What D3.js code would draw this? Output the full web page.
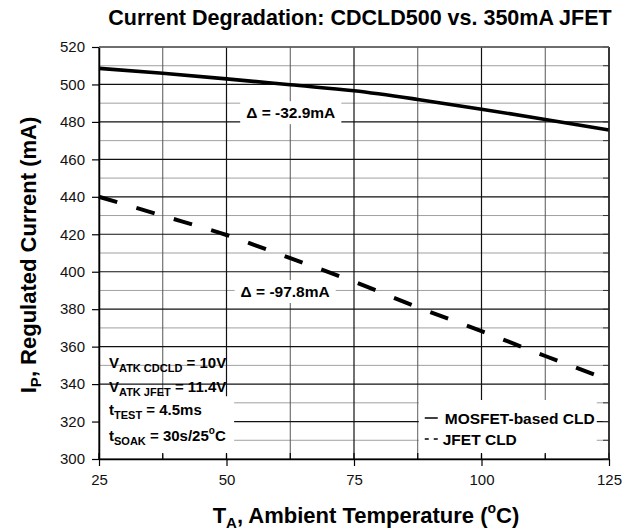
<!DOCTYPE html>
<html>
<head>
<meta charset="utf-8">
<script src="https://cdn.jsdelivr.net/npm/d3@7"></script>
<style>
  body { margin: 0; background: #fff; }
  text { font-family: Arial, "Liberation Sans", sans-serif; }
</style>
</head>
<body>
<div id="chart"></div>
<script>
// Data
const temps = [25, 37.5, 50, 62.5, 75, 87.5, 100, 112.5, 125];
const mosfet = [508.6, 506.0, 503.0, 499.8, 496.6, 492.0, 486.8, 481.3, 475.7];
const jfet = [440.0, 429.9, 419.6, 407.2, 394.7, 381.0, 368.3, 355.0, 342.2];
const xTicks = [25, 50, 75, 100, 125];
const yTicks = [300, 320, 340, 360, 380, 400, 420, 440, 460, 480, 500, 520];
const xMinor = [37.5, 62.5, 87.5, 112.5];
const yMinor = [310, 330, 350, 370, 390, 410, 430, 450, 470, 490, 510];

let svg = d3.select("#chart").append("svg")
  .attr("width", 633)
  .attr("height", 531);
let margins = { top: 47, right: 24, bottom: 72, left: 99 };
let cw = 633 - margins.left - margins.right;
let ch = 531 - margins.top - margins.bottom;

let x = d3.scaleLinear().domain([25, 125]).range([0, cw]);
let y = d3.scaleLinear().domain([300, 520]).range([ch, 0]);

let g = svg.append("g")
  .attr("transform", "translate(" + margins.left + "," + margins.top + ")");

// Gridlines: minor first, then major
g.append("g").selectAll("line").data(yMinor).join("line")
  .attr("x1", 0).attr("x2", cw)
  .attr("y1", d => y(d)).attr("y2", d => y(d))
  .attr("stroke", "#a0a0a0").attr("stroke-width", 1);
g.append("g").selectAll("line").data(xMinor).join("line")
  .attr("x1", d => x(d)).attr("x2", d => x(d))
  .attr("y1", 0).attr("y2", ch)
  .attr("stroke", "#555").attr("stroke-width", 1);
g.append("g").selectAll("line").data(yTicks).join("line")
  .attr("x1", 0).attr("x2", cw)
  .attr("y1", d => y(d)).attr("y2", d => y(d))
  .attr("stroke", "#111").attr("stroke-width", 1.2);
g.append("g").selectAll("line").data(xTicks).join("line")
  .attr("x1", d => x(d)).attr("x2", d => x(d))
  .attr("y1", 0).attr("y2", ch)
  .attr("stroke", "#111").attr("stroke-width", 1.2);

// White boxes for the parameter block and legend
g.append("rect")
  .attr("x", x(25) + 1).attr("y", y(333.5))
  .attr("width", x(51.3) - x(25)).attr("height", y(302.5) - y(333.5))
  .attr("fill", "#fff");
g.append("rect")
  .attr("x", x(87.5) + 1).attr("y", y(31.5 + 300))
  .attr("width", x(122.6) - x(87.5) - 1).attr("height", y(302.5) - y(331.5))
  .attr("fill", "#fff");

// Series lines
let line = d3.line()
  .x((d, i) => x(temps[i]))
  .y(d => y(d))
  .curve(d3.curveMonotoneX);

g.append("path").datum(mosfet)
  .attr("d", line)
  .attr("fill", "none")
  .attr("stroke", "#000")
  .attr("stroke-width", 3.6);
g.append("path").datum(jfet)
  .attr("d", line)
  .attr("fill", "none")
  .attr("stroke", "#000")
  .attr("stroke-width", 4)
  .attr("stroke-dasharray", "19,20");

// Delta annotations with white background
function deltaLabel(tx, val, label) {
  let t = g.append("text")
    .attr("x", x(tx)).attr("y", y(val))
    .attr("text-anchor", "middle")
    .attr("font-size", 15.5).attr("font-weight", "bold")
    .text(label);
  let bb = t.node().getBBox();
  g.insert("rect", function () { return t.node(); })
    .attr("x", bb.x - 6).attr("y", bb.y - 3)
    .attr("width", bb.width + 12).attr("height", bb.height + 6)
    .attr("fill", "#fff");
}
deltaLabel(62.6, 482, "\u0394 = -32.9mA");
deltaLabel(61.5, 386.5, "\u0394 = -97.8mA");

// Axes
let xAxis = g.append("g")
  .attr("transform", "translate(0," + ch + ")")
  .call(d3.axisBottom(x).tickValues(xTicks).tickSizeInner(7).tickSizeOuter(0).tickPadding(8));
let yAxis = g.append("g")
  .call(d3.axisLeft(y).tickValues(yTicks).tickSizeInner(7).tickSizeOuter(0).tickPadding(7));
[xAxis, yAxis].forEach(a => {
  a.select(".domain").attr("stroke", "#000").attr("stroke-width", 1.5);
  a.selectAll(".tick line").attr("stroke", "#000").attr("stroke-width", 1.2);
  a.selectAll(".tick text")
    .attr("font-family", "Arial, 'Liberation Sans', sans-serif")
    .attr("font-size", 15).attr("fill", "#111");
});

// Inward ticks along bottom and right edges
g.append("g").selectAll("line").data(xTicks.concat(xMinor)).join("line")
  .attr("x1", d => x(d)).attr("x2", d => x(d))
  .attr("y1", ch).attr("y2", ch - 6)
  .attr("stroke", "#000").attr("stroke-width", 1.2);
g.append("g").selectAll("line").data(yTicks.concat(yMinor)).join("line")
  .attr("x1", cw - 6).attr("x2", cw)
  .attr("y1", d => y(d)).attr("y2", d => y(d))
  .attr("stroke", "#333").attr("stroke-width", 1);
g.append("line")
  .attr("x1", cw).attr("x2", cw).attr("y1", 0).attr("y2", ch)
  .attr("stroke", "#222").attr("stroke-width", 1.4);
g.append("line")
  .attr("x1", 0).attr("x2", cw).attr("y1", 0).attr("y2", 0)
  .attr("stroke", "#666").attr("stroke-width", 1.4);

// Parameter block
let params = [
  { main: "V", sub: "ATK CDCLD", rest: " = 10V" },
  { main: "V", sub: "ATK JFET", rest: " = 11.4V" },
  { main: "t", sub: "TEST", rest: " = 4.5ms" },
  { main: "t", sub: "SOAK", rest: " = 30s/25", sup: "o", tail: "C" }
];
let pY = [368, 392, 415, 441];
params.forEach((p, i) => {
  let t = g.append("text")
    .attr("x", 10).attr("y", pY[i] - margins.top)
    .attr("font-size", 15).attr("font-weight", "bold");
  t.append("tspan").text(p.main);
  t.append("tspan").attr("font-size", 11).attr("dy", 4).text(p.sub);
  t.append("tspan").attr("dy", -4).text(p.rest);
  if (p.sup) {
    t.append("tspan").attr("font-size", 10).attr("dy", -7).text(p.sup);
    t.append("tspan").attr("dy", 7).text(p.tail);
  }
});

// Legend
let legend = g.append("g")
  .attr("transform", "translate(" + (x(87.5) + 7) + "," + (424 - margins.top) + ")");
legend.append("line")
  .attr("x1", 0).attr("x2", 13).attr("y1", -6).attr("y2", -6)
  .attr("stroke", "#000").attr("stroke-width", 1.5);
legend.append("text").attr("x", 20).attr("y", 0)
  .attr("font-size", 15.5).attr("font-weight", "bold")
  .text("MOSFET-based CLD");
legend.append("line")
  .attr("x1", 0).attr("x2", 14).attr("y1", 15).attr("y2", 15)
  .attr("stroke", "#000").attr("stroke-width", 1.5)
  .attr("stroke-dasharray", "4,5");
legend.append("text").attr("x", 18).attr("y", 21)
  .attr("font-size", 15.5).attr("font-weight", "bold")
  .text("JFET CLD");

// Title
svg.append("text")
  .attr("x", 360).attr("y", 25)
  .attr("text-anchor", "middle")
  .attr("font-size", 21.5).attr("font-weight", "bold")
  .text("Current Degradation: CDCLD500 vs. 350mA JFET");

// Axis titles
let xt = svg.append("text")
  .attr("x", 366).attr("y", 523)
  .attr("text-anchor", "middle")
  .attr("font-size", 22).attr("font-weight", "bold");
xt.append("tspan").text("T");
xt.append("tspan").attr("font-size", 15).attr("dy", 5).text("A");
xt.append("tspan").attr("dy", -5).text(", Ambient Temperature (");
xt.append("tspan").attr("font-size", 14).attr("dy", -10).text("o");
xt.append("tspan").attr("dy", 10).text("C)");

let yt = svg.append("text")
  .attr("transform", "translate(36," + (margins.top + ch / 2 + 2) + ") rotate(-90)")
  .attr("text-anchor", "middle")
  .attr("font-size", 22).attr("font-weight", "bold");
yt.append("tspan").text("I");
yt.append("tspan").attr("font-size", 15).attr("dy", 5).text("P");
yt.append("tspan").attr("dy", -5).text(", Regulated Current (mA)");
</script>
</body>
</html>
